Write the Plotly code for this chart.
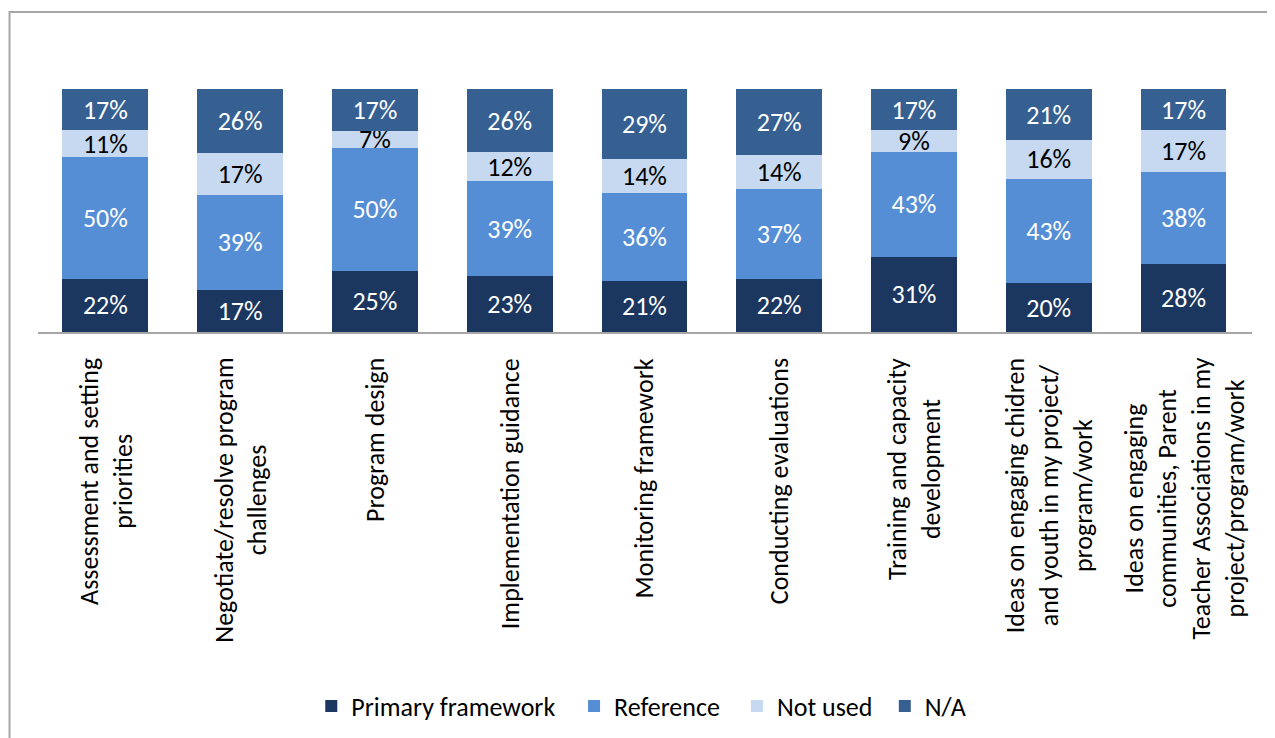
import plotly.graph_objects as go

categories = [
    "Assessment and setting<br>priorities",
    "Negotiate/resolve program<br>challenges",
    "Program design",
    "Implementation guidance",
    "Monitoring framework",
    "Conducting evaluations",
    "Training and capacity<br>development",
    "Ideas on engaging chidren<br>and youth in my project/<br>program/work",
    "Ideas on engaging<br>communities, Parent<br>Teacher Associations in my<br>project/program/work",
]
primary = [22, 17, 25, 23, 21, 22, 31, 20, 28]
reference = [50, 39, 50, 39, 36, 37, 43, 43, 38]
not_used = [11, 17, 7, 12, 14, 14, 9, 16, 17]
na = [17, 26, 17, 26, 29, 27, 17, 21, 17]

series = [
    ("Primary framework", primary, "#1B365F", "white"),
    ("Reference", reference, "#558ED5", "white"),
    ("Not used", not_used, "#C6D9F1", "black"),
    ("N/A", na, "#366092", "white"),
]

FONT = "Carlito, 'Liberation Sans Narrow', Lato, sans-serif"

# page offset (browser body margin)
OFF = 8
W, H = 1275 - OFF, 738 - OFF
L, R = 37.5 - OFF, 22.5
T = 89 - OFF
B = H - (332 - OFF)
pw = W - L - R
ph = H - T - B

def px(x):  # window pixel -> paper
    return (x - OFF - L) / pw

def py(y):
    return (H - B - (y - OFF)) / ph

legend_names = ["legend", "legend2", "legend3", "legend4"]
legend_text_x = [353, 616, 779, 927]

fig = go.Figure()
for (name, vals, color, tcolor), lg in zip(series, legend_names):
    fig.add_trace(go.Bar(
        x=categories, y=vals, name=name,
        marker=dict(color=color, line=dict(width=0)),
        text=[f"{v}%" for v in vals],
        textposition="inside",
        insidetextanchor="middle",
        constraintext="none",
        textangle=0,
        textfont=dict(color=tcolor, size=26, family=FONT),
        legend=lg,
    ))

legends = {}
for lg, tx in zip(legend_names, legend_text_x):
    legends[lg] = dict(
        orientation="h", x=px(tx - 42), xanchor="left",
        y=py(706), yanchor="middle",
        font=dict(size=26, family=FONT, color="black"),
        itemwidth=30, bgcolor="rgba(0,0,0,0)",
    )

annotations = []
for c in categories:
    annotations.append(dict(
        x=c, xref="x", y=py(356), yref="paper",
        text=c, showarrow=False, textangle=-90,
        xanchor="center", yanchor="top", align="center",
        font=dict(size=26, family=FONT, color="black"),
    ))

fig.update_layout(
    width=W, height=H,
    barmode="stack",
    barnorm="percent",
    bargap=1 - 86 / 135,
    margin=dict(l=L, r=R, t=T, b=B, autoexpand=False),
    paper_bgcolor="white",
    plot_bgcolor="white",
    font=dict(family=FONT, color="black"),
    showlegend=True,
    xaxis=dict(
        showticklabels=False,
        showline=True, linecolor="#a6a6a6", linewidth=2,
        ticks="", showgrid=False,
    ),
    yaxis=dict(range=[0, 100], visible=False, showgrid=False),
    annotations=annotations,
    shapes=[dict(
        type="rect", xref="paper", yref="paper",
        x0=px(9), x1=px(1300), y0=py(780), y1=py(12),
        line=dict(color="#a6a6a6", width=2), fillcolor="rgba(0,0,0,0)",
        layer="below",
    )],
    **legends,
)

fig.write_html("out.html")
